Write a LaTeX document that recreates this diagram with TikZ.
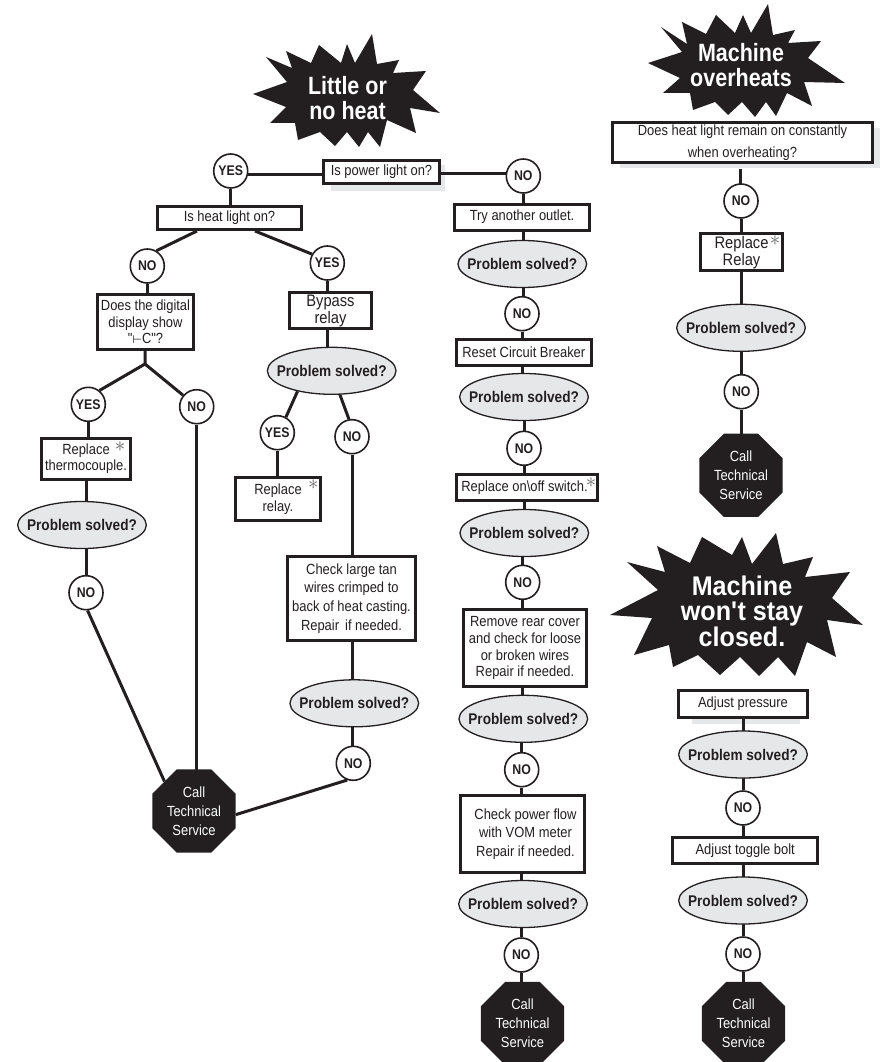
\documentclass[tikz,border=0pt]{standalone}
\usepackage{fontspec}
\setmainfont{Liberation Sans}
\newfontfamily\narrowf[FakeStretch=0.88]{Liberation Sans}
\newfontfamily\titlef[FakeStretch=0.86]{Liberation Sans}
\newfontfamily\titlewidef[FakeStretch=0.93]{Liberation Sans}
\newfontfamily\symf{DejaVu Sans}
\usetikzlibrary{shapes.geometric,backgrounds}
\definecolor{ellgray}{HTML}{E6E7E8}
\definecolor{ink}{HTML}{231F20}
\newcommand\solvedtext{\makebox[0pt]{Problem solved?}}
\newcommand\calltext{Call\\Technical\\Service}
\newcommand\qfont[1]{\narrowf\fontsize{14.7}{#1}\selectfont}
\newcommand\qfontbig[1]{\narrowf\fontsize{16.7}{#1}\selectfont}
\newcommand\lowered[1]{\raisebox{-5.7pt}[0pt][0pt]{\begin{tabular}{@{}c@{}}#1\end{tabular}}}
\tikzset{
 qbox/.style={draw=ink,line width=3pt,fill=white,text=ink,align=center,inner sep=0pt,font=\qfont{17.3}},
 round/.style={circle,draw=ink,line width=1.6pt,fill=white,text=ink,minimum size=34pt,inner sep=0pt,font=\bfseries\narrowf\fontsize{14}{14}\selectfont},
 solved/.style={ellipse,draw=ink,line width=1.3pt,fill=ellgray,text=ink,minimum width=128.7pt,minimum height=47pt,inner sep=0pt,font=\bfseries\narrowf\fontsize{15.5}{16}\selectfont},
 stopsign/.style={regular polygon,regular polygon sides=8,fill=ink,text=white,minimum size=90pt,inner sep=0pt,align=center,font=\narrowf\fontsize{14.7}{19}\selectfont},
 burst/.style={fill=ink},
 burstlabel/.style={text=white,align=center,inner sep=0pt,font=\titlef\bfseries\fontsize{25}{25.5}\selectfont},
 link/.style={draw=ink,line width=3pt,line cap=butt},
 boxshade/.style={fill=ellgray},
 star/.style={inner sep=0pt,text=ink!70,font=\fontsize{20}{20}\selectfont}
}
\begin{document}
\begin{tikzpicture}[x=1pt,y=-1pt]
\useasboundingbox (0,0) rectangle (880,1062);
% bursts
\fill[burst] (266,57)--(292,68)--(286,51)--(311,63)--(319,45)--(341,63)--(347,44)--(355,63)--(372,34)--(377,64)--(399,60)--(393,73)--(426,71)--(413,90)--(440,113)--(410,108)--(416,133)--(387,120)--(380,147)--(368,132)--(359,147)--(347,132)--(335,146)--(320,132)--(298,140)--(295,123)--(270,123)--(286,107)--(253,94)--(287,82)--cycle;
\fill[burst] (661,27)--(687,44)--(682,22)--(706,34)--(716,15)--(735,33)--(743,15)--(751,33)--(768,4)--(773,35)--(795,30)--(788,43)--(821,41)--(808,58)--(845,83)--(804,82)--(812,106)--(787,93)--(776,116)--(766,102)--(755,117)--(742,102)--(728,115)--(715,102)--(693,110)--(690,93)--(663,93)--(680,78)--(648,63)--(682,52)--cycle;
\fill[burst] (627,562)--(665,572)--(657,546)--(690,563)--(702,537)--(732,555)--(742,537)--(752,564)--(776,533)--(783,564)--(813,557)--(805,577)--(850,572)--(832,598)--(863,625)--(827,620)--(836,657)--(807,642)--(795,676)--(778,657)--(759,676)--(740,657)--(720,675)--(698,655)--(673,667)--(669,645)--(634,655)--(652,618)--(610,615)--(658,590)--cycle;
\node[burstlabel] (title1) at (347.5,98) {Little or\\no heat};
\node[burstlabel] (title2) at (741,65) {Machine\\overheats};
\node[burstlabel,font=\titlewidef\bfseries\fontsize{27}{25.5}\selectfont] (title3) at (742,611) {Machine\\won\textquotesingle t stay\\closed.};
% left branch
\node[round] (yesA) at (230.7,171) {YES};
\node[qbox,minimum width=116pt,minimum height=23pt] (power) at (381.5,172) {Is power light on?};
\node[round] (noA) at (523.3,176) {NO};
\node[qbox,minimum width=144pt,minimum height=23pt] (heat) at (229.5,218) {Is heat light on?};
\node[round] (noB) at (147.3,266) {NO};
\node[round] (yesB) at (327.3,263) {YES};
\node[qbox,font=\qfont{16.7},minimum width=96pt,minimum height=55pt] (digital) at (145.5,322) {Does the digital\\display show\\"{\symf\fontsize{11}{11}\selectfont ⊢}C"?};
\coordinate (fork) at (145,364);
\node[round] (yesC) at (88.3,404.3) {YES};
\node[round] (noC) at (196.7,406.7) {NO};
\node[qbox,font=\qfont{16.7},minimum width=88.7pt,minimum height=41pt] (thermo) at (86,458.7) {Replace\hspace{4pt}\\thermocouple.};
\node[solved] (psA) at (82,525) {\solvedtext};
\node[round] (noD) at (86,592.7) {NO};
\node[stopsign] (stopA) at (194,811) {\calltext};
% middle-left branch
\node[qbox,font=\qfontbig{17.3},minimum width=82.6pt,minimum height=36.3pt] (bypass) at (330.5,310.3) {\lowered{Bypass\\relay}};
\node[solved] (psB) at (331.7,370.8) {\solvedtext};
\node[round] (yesD) at (277.3,432.7) {YES};
\node[round] (noE) at (352,436.7) {NO};
\node[qbox,minimum width=85pt,minimum height=42.7pt] (relay) at (278,499) {Replace\\relay.};
\node[qbox,font=\qfont{18.7},minimum width=128.6pt,minimum height=83.7pt] (check) at (351.5,598.3) {Check large tan\\wires crimped to\\back of heat casting.\\Repair\, if needed.};
\node[solved] (psC) at (354.3,703.3) {\solvedtext};
\node[round] (noF) at (353.3,763.3) {NO};
% centre column
\node[qbox,minimum width=134.7pt,minimum height=26pt] (outlet) at (522,217) {Try another outlet.};
\node[solved] (psD) at (522.3,264) {\solvedtext};
\node[round] (noG) at (522,313.7) {NO};
\node[qbox,minimum width=134.7pt,minimum height=25.4pt] (breaker) at (523.8,352.5) {Reset Circuit Breaker};
\node[solved] (psE) at (524,397) {\solvedtext};
\node[round] (noH) at (524,448.3) {NO};
\node[qbox,minimum width=141.3pt,minimum height=26pt] (onoff) at (527,487.8) {Replace on\textbackslash off switch.\hspace{5pt}};
\node[solved] (psF) at (524.3,533) {\solvedtext};
\node[round] (noI) at (522.7,582.3) {NO};
\node[qbox,font=\qfont{16.7},minimum width=123pt,minimum height=77pt] (rear) at (525,648.3) {Remove rear cover\\and check for loose\\or broken wires\\Repair if needed.};
\node[solved] (psG) at (523.3,718.8) {\solvedtext};
\node[round] (noJ) at (521.7,769.7) {NO};
\node[qbox,font=\qfont{18.7},minimum width=123.4pt,minimum height=77pt] (vom) at (522.5,834) {\hspace*{6pt}\begin{tabular}{@{}c@{}}Check power flow\\with VOM meter\\Repair if needed.\end{tabular}};
\node[solved] (psH) at (523,904) {\solvedtext};
\node[round] (noK) at (521.3,955) {NO};
\node[stopsign] (stopB) at (522.5,1023.5) {\calltext};
% right column, overheats
\node[qbox,font=\qfont{21.5},minimum width=260pt,minimum height=40.6pt] (remain) at (742.5,142.5) {Does heat light remain on constantly\\when overheating?};
\coordinate (remainfoot) at (740,169);
\node[round] (noL) at (741,201) {NO};
\node[qbox,font=\qfontbig{17.3},minimum width=82.6pt,minimum height=37.6pt] (relayB) at (741.5,252) {\lowered{Replace\hspace{3pt}\\Relay}};
\node[solved] (psI) at (741,327.8) {\solvedtext};
\node[round] (noM) at (741.3,391.7) {NO};
\node[stopsign] (stopC) at (741,475.3) {\calltext};
% right column, stay closed
\node[qbox,minimum width=128.4pt,minimum height=26.7pt] (pressure) at (743,704) {Adjust pressure};
\node[solved] (psJ) at (743,754.5) {\solvedtext};
\node[round] (noN) at (743,808) {NO};
\node[qbox,minimum width=145.3pt,minimum height=26.3pt] (toggle) at (745.2,850.3) {Adjust toggle bolt};
\node[solved] (psK) at (743,900.5) {\solvedtext};
\node[round] (noO) at (743,954) {NO};
\node[stopsign] (stopD) at (743.5,1023.5) {\calltext};
% asterisks
\node[star] (s1) at (120,447) {$\ast$};
\node[star] (s2) at (313.3,485) {$\ast$};
\node[star] (s3) at (591,483) {$\ast$};
\node[star] (s4) at (775,241) {$\ast$};
% connectors and box shades, behind the nodes
\begin{scope}[on background layer]
\fill[boxshade] (331,165) rectangle (445,191);
\fill[boxshade] (620,128) rectangle (880,168);
\fill[boxshade] (692,710) rectangle (800,724);
\begin{scope}[link]
\draw (yesA.-10) -- (power.center |- yesA.-10);
\draw (power.center |- noA.172) -- (noA.172);
\draw (yesA) -- (yesA |- heat);
\draw (heat.south -| 197,0) -- (noB.59);
\draw (heat.south -| 255,0) -- (yesB.150);
\draw (noB) -- (noB |- digital);
\draw (digital) -- (fork);
\draw (fork) -- (yesC.51);
\draw (fork) -- (noC.140);
\draw (yesC) -- (yesC |- thermo);
\draw (noD |- thermo) -- (noD);
\draw (noD.-85) -- (stopA.135);
\draw (noC) -- (noC |- stopA);
\draw (yesB) -- (yesB |- bypass);
\draw (yesB |- bypass) -- (yesB |- psB);
\draw (psB.-149.5) -- (yesD.61.5);
\draw (psB.-71) -- (noE.100);
\draw (yesD) -- (yesD |- relay);
\draw (noE) -- (noE |- check);
\draw (noE |- check) -- (noE |- psC);
\draw (noE |- psC) -- (noE |- noF);
\draw (noF.-110) -- (stopA.-5.5);
\draw (noA) -- (noA |- outlet);
\draw (noA |- outlet) -- (noA |- psD);
\draw (noA |- psD) -- (noA |- noG);
\draw (noG) -- (noG |- breaker);
\draw (noG |- breaker) -- (noG |- psE);
\draw (noH |- psE) -- (noH);
\draw (noH) -- (noH |- onoff);
\draw (noH |- onoff) -- (noH |- psF);
\draw (noI |- psF) -- (noI);
\draw (noI) -- (noI |- rear);
\draw (noI |- rear) -- (noI |- psG);
\draw (noJ |- psG) -- (noJ);
\draw (noJ) -- (noJ |- vom);
\draw (noJ |- vom) -- (noJ |- psH);
\draw (noK |- psH) -- (noK);
\draw (noK) -- (noK |- stopB);
\draw (remainfoot) -- (remainfoot |- noL);
\draw (noL) -- (noL |- relayB);
\draw (noL |- relayB) -- (noL |- psI);
\draw (noL |- psI) -- (noL |- noM);
\draw (noM) -- (noM |- stopC);
\draw (noN |- pressure) -- (noN |- psJ);
\draw (noN |- psJ) -- (noN);
\draw (noN) -- (noN |- toggle);
\draw (noN |- toggle) -- (noN |- psK);
\draw (noN |- psK) -- (noO);
\draw (noO) -- (noO |- stopD);
\end{scope}
\end{scope}
\end{tikzpicture}
\end{document}
